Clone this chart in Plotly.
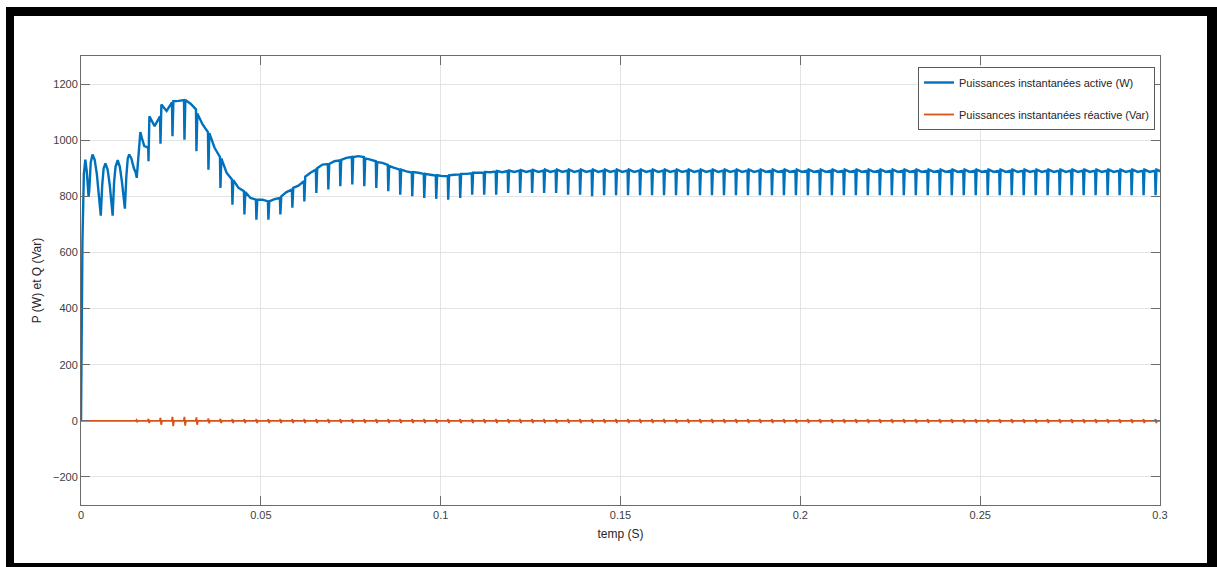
import numpy as np
import plotly.graph_objects as go

# ---------------- data ----------------
# start-up transient (s, W): inrush and rectified arcs before regular commutation notches
early_t = [0.0, 0.0004, 0.0008, 0.0012, 0.0016, 0.0021, 0.0023, 0.0027, 0.0032, 0.0038, 0.0044,
           0.0050, 0.0055, 0.0059, 0.0063, 0.0068, 0.0074, 0.0080, 0.0085, 0.0088, 0.0092,
           0.0096, 0.0102, 0.0108, 0.0114, 0.0119, 0.0122, 0.0126, 0.0130, 0.0134, 0.0140,
           0.0147, 0.0152, 0.0155, 0.0160, 0.0165, 0.0171, 0.0176, 0.0184, 0.0187]
early_p = [0, 640, 880, 931, 890, 800, 820, 920, 949, 930, 880,
           810, 731, 840, 900, 917, 895, 840, 770, 731, 850,
           905, 929, 905, 850, 790, 756, 870, 935, 949, 935,
           900, 885, 866, 960, 1029, 1000, 979, 975, 970]

# commutation notches, one every 1/300 s starting at 0.0021 s (k = 0 .. 89)
notch_first = 0.0021
notch_period = 1 / 300

# per-notch values for k = 5 .. 89: bottom of notch, level just after, mid-period, end of period
p_dip = [925, 987, 1014, 1002, 961, 895, 830, 770, 735, 717,
         717, 735, 759, 782, 812, 824, 836, 842, 836, 830,
         818, 806, 800, 794, 791, 788, 794, 806, 806, 806,
         812, 812, 812, 812, 812, 806, 806, 800, 804, 804,
         804, 804, 804, 804, 804, 804, 804, 804, 804, 804,
         804, 804, 804, 804, 804, 804, 804, 804, 804, 804,
         804, 804, 804, 804, 804, 804, 804, 804, 804, 804,
         804, 804, 804, 804, 804, 804, 804, 804, 804, 804,
         804, 804, 804, 804, 804]
p_post = [1085, 1127, 1139, 1143, 1095, 1025, 935, 858, 815, 788,
          782, 800, 830, 870, 900, 915, 930, 940, 935, 922,
          908, 895, 886, 880, 875, 875, 880, 884, 887, 890,
          892, 893, 894, 895, 895, 895, 895, 895, 895, 895,
          895, 895, 895, 895, 895, 895, 895, 895, 895, 895,
          895, 895, 895, 895, 895, 895, 895, 895, 895, 895,
          895, 895, 895, 895, 895, 895, 895, 895, 895, 895,
          895, 895, 895, 895, 895, 895, 895, 895, 895, 895,
          895, 895, 895, 895, 895]
p_mid = [1050, 1104, 1140, 1130, 1056, 973, 884, 830, 794, 788,
         790, 815, 838, 884, 913, 925, 937, 943, 931, 919,
         901, 889, 884, 877, 872, 877, 880, 884, 886, 886,
         887, 887, 887, 887, 887, 887, 887, 887, 887, 887,
         887, 887, 887, 887, 887, 887, 887, 887, 887, 887,
         887, 887, 887, 887, 887, 887, 887, 887, 887, 887,
         887, 887, 887, 887, 887, 887, 887, 887, 887, 887,
         887, 887, 887, 887, 887, 887, 887, 887, 887, 887,
         887, 887, 887, 887, 887]
p_pre = [1085, 1135, 1143, 1110, 1029, 940, 860, 818, 788, 782,
         794, 824, 854, 895, 915, 928, 940, 940, 925, 912,
         895, 885, 880, 874, 872, 878, 882, 885, 888, 890,
         892, 892, 892, 892, 892, 892, 892, 892, 892, 892,
         892, 892, 892, 892, 892, 892, 892, 892, 892, 892,
         892, 892, 892, 892, 892, 892, 892, 892, 892, 892,
         892, 892, 892, 892, 892, 892, 892, 892, 892, 892,
         892, 892, 892, 892, 892, 892, 892, 892, 892, 892,
         892, 892, 892, 892, 892]

# reactive power excursions at each notch (k = 0 .. 89): peak above and below zero (Var)
q_hi = [1, 1, 1, 1, 3, 7, 11, 14, 14, 12, 8, 7, 6, 6, 6, 6, 6, 6, 6, 6,
        6, 6, 6, 6, 6, 6, 6, 6, 6, 6, 6, 6, 6, 6, 6, 6, 6, 6, 6, 6,
        6, 6, 6, 6, 6, 6, 6, 6, 6, 6, 6, 6, 6, 6, 6, 6, 6, 6, 6, 6,
        6, 6, 6, 6, 6, 6, 6, 6, 6, 6, 6, 6, 6, 6, 6, 6, 6, 6, 6, 6,
        6, 6, 6, 6, 6, 6, 6, 6, 6, 6]
q_lo = [-1, -1, -1, -1, -3, -8, -14, -19, -17, -14, -9, -8, -8, -8, -8, -8, -8, -8, -8, -8,
        -8, -8, -8, -8, -8, -8, -8, -8, -8, -8, -8, -8, -8, -8, -8, -8, -8, -8, -8, -8,
        -8, -8, -8, -8, -8, -8, -8, -8, -8, -8, -8, -8, -8, -8, -8, -8, -8, -8, -8, -8,
        -8, -8, -8, -8, -8, -8, -8, -8, -8, -8, -8, -8, -8, -8, -8, -8, -8, -8, -8, -8,
        -8, -8, -8, -8, -8, -8, -8, -8, -8, -8]

x_ticks = [0, 0.05, 0.1, 0.15, 0.2, 0.25, 0.3]
x_tick_text = ["0", "0.05", "0.1", "0.15", "0.2", "0.25", "0.3"]
y_ticks = [-200, 0, 200, 400, 600, 800, 1000, 1200]

# ---------------- assemble traces ----------------
n_notch = 90
t_notch = [notch_first + k * notch_period for k in range(n_notch)]

tp = list(early_t)
pp = list(early_p)
for i, k in enumerate(range(5, n_notch)):
    tk = t_notch[k]
    tp += [tk, tk + 0.00025, tk + 0.0017, tk + 0.0032]
    pp += [p_dip[i], p_post[i], p_mid[i], p_pre[i]]

tq = [0.0]
qq = [0]
for k in range(n_notch):
    tk = t_notch[k]
    tq += [tk - 0.0002, tk, tk + 0.0002, tk + 0.0004]
    qq += [0, q_hi[k], q_lo[k], 0]
tq.append(0.3)
qq.append(0)

BLUE = "#0072BD"
ORANGE = "#D95319"
AXIS = "#6b6b6b"
FONT = "Liberation Sans, Arial, sans-serif"

fig = go.Figure()
fig.add_trace(go.Scatter(
    x=tp, y=pp, mode="lines", name="Puissances instantanées active (W)",
    line=dict(color=BLUE, width=2.4), legendgroup="p"))
fig.add_trace(go.Scatter(
    x=tq, y=qq, mode="lines", name="Puissances instantanées réactive (Var)",
    line=dict(color=ORANGE, width=1.8), legendgroup="q"))

# plot area occupies x 81..1160, y 56..505 px
L, R, T, B = 81, 57, 56, 62
W, H = 1217, 567
pw, ph = W - L - R, H - T - B


def px_x(x):
    return (x - L) / pw


def px_y(y):
    return (H - B - y) / ph


# black picture frame around the figure
frame = [(6, 7, 14, 567), (6, 7, 1217, 16), (1207, 7, 1217, 567), (6, 563, 1217, 567)]
shapes = []
for x0, y0, x1, y1 in frame:
    shapes.append(dict(type="rect", xref="paper", yref="paper",
                       x0=px_x(x0), x1=px_x(x1), y0=px_y(y1), y1=px_y(y0),
                       fillcolor="black", line=dict(width=0), layer="above"))

axis_common = dict(
    showline=True, linecolor=AXIS, linewidth=1, mirror="ticks",
    ticks="inside", ticklen=9, tickcolor=AXIS, tickwidth=1,
    showgrid=True, gridcolor="#e3e3e3", gridwidth=1, zeroline=False,
    tickfont=dict(family=FONT, size=11, color="#404040"),
)

fig.update_layout(
    width=W, height=H,
    margin=dict(l=L, r=R, t=T, b=B),
    paper_bgcolor="white", plot_bgcolor="white",
    font=dict(family=FONT, color="#262626"),
    shapes=shapes,
    showlegend=True,
    legend=dict(
        x=px_x(1155), y=px_y(67), xanchor="right", yanchor="top",
        bgcolor="white", bordercolor="#5a5a5a", borderwidth=1,
        font=dict(family=FONT, size=11, color="#262626"),
        traceorder="grouped", tracegroupgap=13,
    ),
    xaxis=dict(range=[0, 0.3], tickvals=x_ticks, ticktext=x_tick_text,
               title=dict(text="temp (S)", font=dict(family=FONT, size=12, color="#262626"), standoff=9),
               **axis_common),
    yaxis=dict(range=[-300, 1300], tickvals=y_ticks,
               title=dict(text="P (W) et Q (Var)", font=dict(family=FONT, size=12, color="#262626"), standoff=8),
               **axis_common),
)

fig.write_html("out.html")
